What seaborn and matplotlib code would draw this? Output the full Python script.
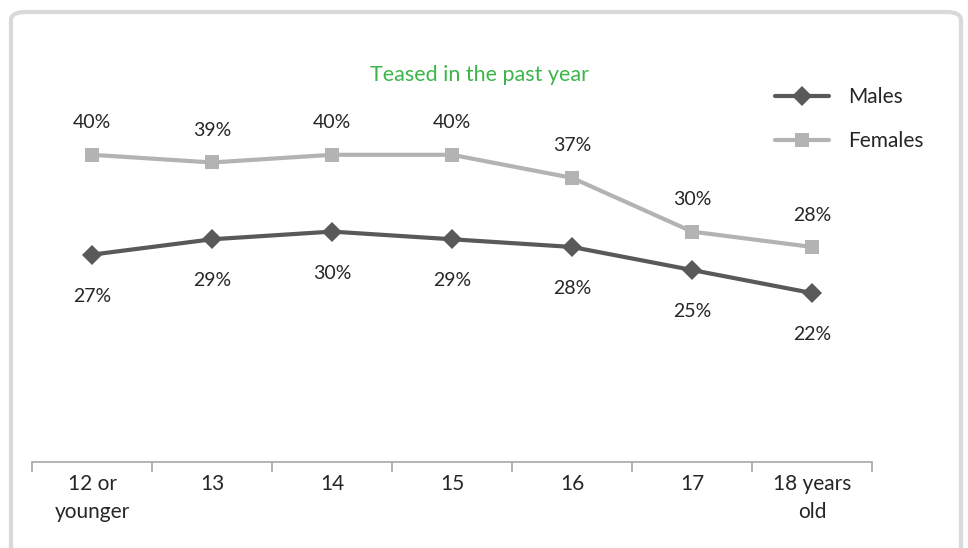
import numpy as np
import pandas as pd
import matplotlib.pyplot as plt
from matplotlib.patches import FancyBboxPatch
from matplotlib.ticker import FixedLocator
import seaborn as sns

# ── Data ──────────────────────────────────────────────────────────────────────
ages    = ['12 or\nyounger', '13', '14', '15', '16', '17', '18 years\nold']
males   = [27, 29, 30, 29, 28, 25, 22]
females = [40, 39, 40, 40, 37, 30, 28]

df = pd.DataFrame({
    'age':   ages * 2,
    'pct':   males + females,
    'group': ['Males'] * len(ages) + ['Females'] * len(ages),
})

sns.set_theme(style='white')
plt.rcParams['font.family'] = ['Lato', 'DejaVu Sans']

C_MALE, C_FEM = '#595959', '#b3b3b3'
TXT = '#262626'

fig = plt.figure(figsize=(9.68, 5.48), dpi=100)
ax = fig.add_axes([32/968, 1 - 462/548, 840/968, 384/548])

# rounded frame round the whole chart
fig.patches.append(FancyBboxPatch((11/968, -0.05), 950/968, 1 - 12/548 + 0.05,
                                  boxstyle='round,pad=0,rounding_size=0.015',
                                  transform=fig.transFigure, fill=False,
                                  edgecolor='#d9d9d9', linewidth=3))

sns.lineplot(data=df, x='age', y='pct', hue='group', style='group',
             markers={'Males': 'D', 'Females': 's'}, dashes=False,
             palette={'Males': C_MALE, 'Females': C_FEM},
             hue_order=['Males', 'Females'], style_order=['Males', 'Females'],
             linewidth=3, markersize=10.5, markeredgewidth=0, ax=ax, legend=True)

# data labels
for i, v in enumerate(females):
    ax.annotate(f'{v}%', (i, v), xytext=(0, 23), textcoords='offset points',
                ha='center', va='center', fontsize=14, color=TXT)
for i, v in enumerate(males):
    ax.annotate(f'{v}%', (i, v), xytext=(0, -30), textcoords='offset points',
                ha='center', va='center', fontsize=14, color=TXT)

ax.set_xlim(-0.5, len(ages) - 0.5)
ax.set_ylim(0, 50)
ax.set_xlabel('')
ax.set_ylabel('')
ax.set_yticks([])
for s in ['top', 'right', 'left']:
    ax.spines[s].set_visible(False)
ax.spines['bottom'].set_color('#a6a6a6')
ax.spines['bottom'].set_linewidth(1.2)
ax.xaxis.set_minor_locator(FixedLocator(np.arange(-0.5, len(ages), 1.0)))
ax.tick_params(axis='x', which='major', length=0, pad=9, labelsize=15,
               colors=TXT)
for lbl in ax.get_xticklabels():
    lbl.set_linespacing(1.45)
ax.tick_params(axis='x', which='minor', length=7, width=1.2, color='#a6a6a6',
               bottom=True)

ax.legend(loc='center left', bbox_to_anchor=(756/968, 1 - 119/548),
          bbox_transform=fig.transFigure, frameon=False, fontsize=15,
          handlelength=2.6, labelspacing=1.15, handletextpad=0.9,
          title=None)

fig.text(479/968, 1 - 75/548, 'Teased in the past year', ha='center',
         va='center', fontsize=15.5, color='#3cb54a')

plt.savefig('out.png', dpi=100)
